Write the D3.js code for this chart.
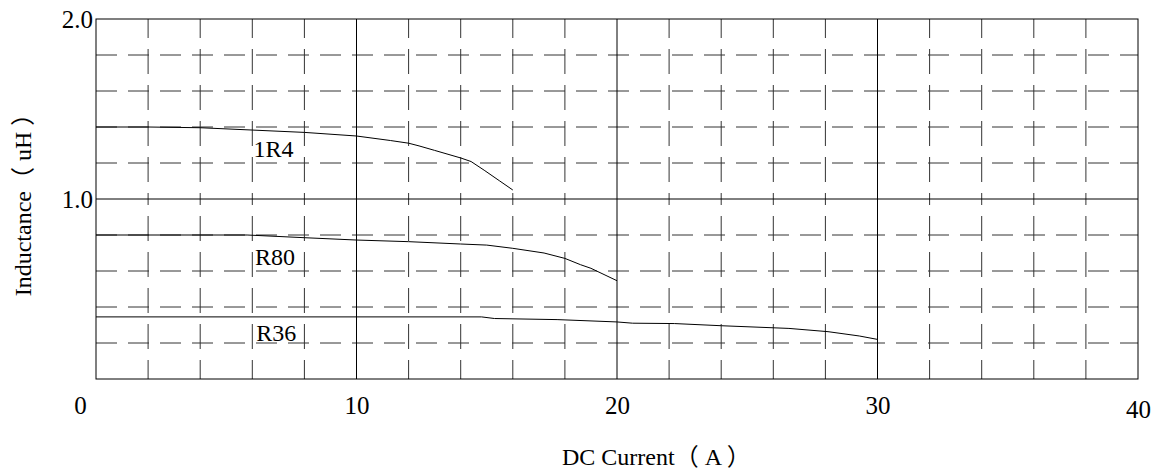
<!DOCTYPE html>
<html>
<head>
<meta charset="utf-8">
<script src="https://cdn.jsdelivr.net/npm/d3@7"></script>
<style>
  body { margin: 0; background: #fff; }
  text { font-family: "Liberation Serif", "Times New Roman", "Noto Sans CJK SC", serif; fill: #000; }
</style>
</head>
<body>
<div id="chart-area"></div>
<script>
// DC current (A) / inductance (uH)
var r1r4Current = [0, 2, 4, 6, 8, 10, 11.3, 12, 12.4, 13, 14, 14.4, 14.9, 15.5, 16];
var r1r4Induct  = [1.40, 1.40, 1.396, 1.383, 1.37, 1.35, 1.325, 1.31, 1.295, 1.27, 1.228, 1.208, 1.16, 1.10, 1.05];

var r80Current = [0, 5.8, 8, 10, 12, 14, 15, 16, 17.2, 18, 18.6, 19, 20];
var r80Induct  = [0.80, 0.80, 0.785, 0.772, 0.763, 0.75, 0.744, 0.726, 0.70, 0.67, 0.635, 0.615, 0.546];

var r36Current = [0, 14.8, 15.3, 17.7, 20, 20.6, 22.2, 24, 26.6, 28.1, 29.3, 30];
var r36Induct  = [0.345, 0.345, 0.336, 0.33, 0.317, 0.31, 0.308, 0.296, 0.281, 0.263, 0.239, 0.22];

var seriesNames = ["1R4", "R80", "R36"];
var labelAt = [[6.05, 1.235], [6.1, 0.635], [6.15, 0.21]];  // where the names sit (current, inductance)

var xTicks = [0, 10, 20, 30, 40];
var yTicks = [1.0, 2.0];
var xMinor = [2, 4, 6, 8, 12, 14, 16, 18, 22, 24, 26, 28, 32, 34, 36, 38];
var yMinor = [0.2, 0.4, 0.6, 0.8, 1.2, 1.4, 1.6, 1.8];
var xMajor = [10, 20, 30];
var yMajor = [1.0];

var margin = { left: 96, right: 19, top: 19, bottom: 92 };
var width = 1157 - margin.left - margin.right;
var height = 471 - margin.top - margin.bottom;

var svg = d3.select("#chart-area")
    .append("svg")
        .attr("width", 1157)
        .attr("height", 471);

var g = svg.append("g")
        .attr("transform", "translate(" + margin.left + ", " + margin.top + ")");

var xscale = d3.scaleLinear().domain([0, 40]).range([0, width]);
var yscale = d3.scaleLinear().domain([0, 2]).range([height, 0]);

// dashed grid, horizontal
g.selectAll(".hgrid")
    .data(yMinor)
    .enter()
    .append("line")
        .attr("x1", 0)
        .attr("x2", width)
        .attr("y1", d => yscale(d))
        .attr("y2", d => yscale(d))
        .attr("stroke", "#333")
        .attr("stroke-dasharray", "21,11");

// dashed grid, vertical: drawn from each end towards the 1.0 line
g.selectAll(".vgrid-top")
    .data(xMinor)
    .enter()
    .append("line")
        .attr("x1", d => xscale(d))
        .attr("x2", d => xscale(d))
        .attr("y1", yscale(2))
        .attr("y2", yscale(1))
        .attr("stroke", "#333")
        .attr("stroke-dasharray", "25,11")
        .attr("stroke-dashoffset", 6);

g.selectAll(".vgrid-bot")
    .data(xMinor)
    .enter()
    .append("line")
        .attr("x1", d => xscale(d))
        .attr("x2", d => xscale(d))
        .attr("y1", yscale(0))
        .attr("y2", yscale(1))
        .attr("stroke", "#333")
        .attr("stroke-dasharray", "25,11")
        .attr("stroke-dashoffset", 6);

// solid grid
g.selectAll(".vmajor")
    .data(xMajor)
    .enter()
    .append("line")
        .attr("x1", d => xscale(d))
        .attr("x2", d => xscale(d))
        .attr("y1", 0)
        .attr("y2", height)
        .attr("stroke", "#000");

g.selectAll(".hmajor")
    .data(yMajor)
    .enter()
    .append("line")
        .attr("x1", 0)
        .attr("x2", width)
        .attr("y1", d => yscale(d))
        .attr("y2", d => yscale(d))
        .attr("stroke", "#000");

g.append("rect")
    .attr("width", width)
    .attr("height", height)
    .attr("fill", "none")
    .attr("stroke", "#000");

// curves
var line = d3.line()
    .x(d => xscale(d[0]))
    .y(d => yscale(d[1]));

var curves = [
    d3.zip(r1r4Current, r1r4Induct),
    d3.zip(r80Current, r80Induct),
    d3.zip(r36Current, r36Induct)
];

g.selectAll(".curve")
    .data(curves)
    .enter()
    .append("path")
        .attr("d", line)
        .attr("fill", "none")
        .attr("stroke", "#000")
        .attr("stroke-width", 1);

g.selectAll(".curve-label")
    .data(seriesNames)
    .enter()
    .append("text")
        .attr("x", (d, i) => xscale(labelAt[i][0]))
        .attr("y", (d, i) => yscale(labelAt[i][1]))
        .attr("font-size", 24)
        .text(d => d);

// axes
var bottomAxisCall = d3.axisBottom(xscale)
    .tickValues(xTicks)
    .tickSize(0)
    .tickPadding(17)
    .tickFormat(d3.format("d"));

var bx = g.append("g")
    .attr("transform", "translate(0," + height + ")")
    .call(bottomAxisCall);
bx.select(".domain").remove();
bx.selectAll("text")
    .attr("font-size", 25)
    .attr("dx", d => d === 0 ? -16 : 0)
    .attr("dy", d => d === 40 ? "0.88em" : "0.71em");
bx.attr("font-family", null);

var leftAxisCall = d3.axisLeft(yscale)
    .tickValues(yTicks)
    .tickSize(0)
    .tickPadding(3)
    .tickFormat(d3.format(".1f"));

var ly = g.append("g").call(leftAxisCall);
ly.select(".domain").remove();
ly.selectAll("text").attr("font-size", 25);
ly.attr("font-family", null);

g.append("text")
    .attr("x", 562 - margin.left)
    .attr("y", 465 - margin.top)
    .attr("font-size", 24)
    .text("DC Current（ A ）");

g.append("text")
    .attr("transform", "rotate(-90)")
    .attr("x", -height / 2)
    .attr("y", 31 - margin.left)
    .attr("text-anchor", "middle")
    .attr("font-size", 24)
    .text("Inductance（ uH ）");
</script>
</body>
</html>
